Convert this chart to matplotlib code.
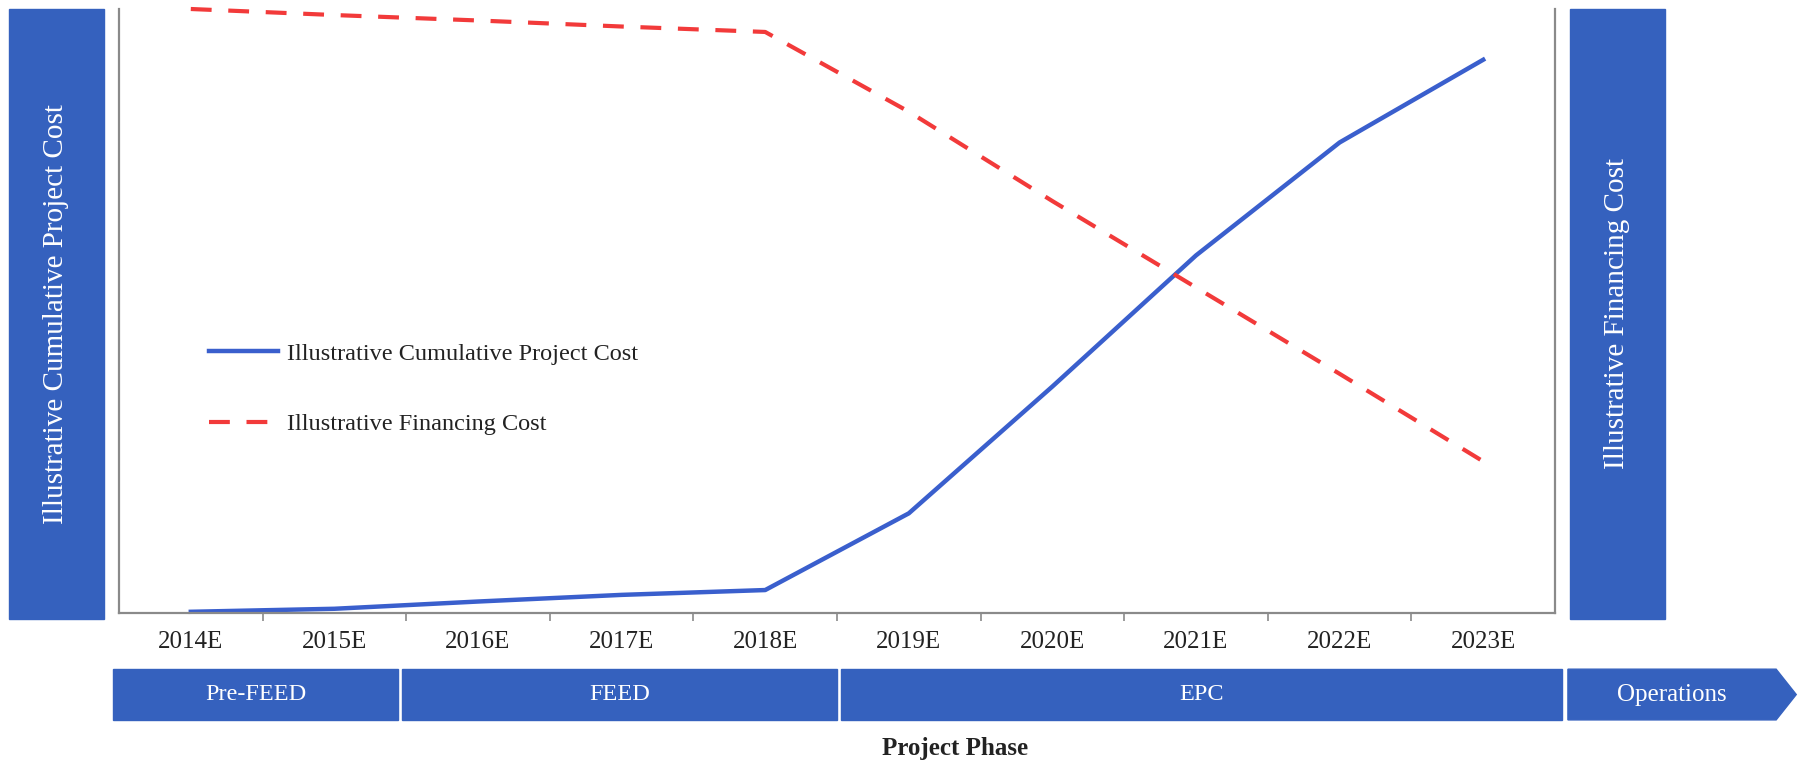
import numpy as np
import matplotlib
matplotlib.use('Agg')
import matplotlib.pyplot as plt
from matplotlib.patches import Rectangle, Polygon
import matplotlib.transforms as mtransforms

plt.rcParams['font.family'] = ['Liberation Serif', 'DejaVu Serif']

years = ['2014E', '2015E', '2016E', '2017E', '2018E',
         '2019E', '2020E', '2021E', '2022E', '2023E']
project_cost = [0.2, 0.7, 1.9, 3.0, 3.8, 16.5, 37.5, 59.2, 77.9, 91.6]
financing_cost = [100.0, 99.0, 98.1, 97.1, 96.2, 83.0, 68.2, 53.9, 39.6, 25.1]

phases = ['Pre-FEED', 'FEED', 'EPC', 'Operations']
phase_start = [-0.54, 1.47, 4.53, 9.59]
phase_end = [1.44, 4.50, 9.55, 11.04]

box_blue = '#3561BE'
line_blue = '#3A5FCD'
line_red = '#F23A3A'
spine_grey = '#8a8a8a'

fig = plt.figure(figsize=(18.04, 7.64), dpi=100)
ax = fig.add_axes([119 / 1804, 1 - 613 / 764, 1436 / 1804, 604 / 764])

x = np.arange(len(years))
ax.plot(x, project_cost, color=line_blue, lw=3.2,
        label='Illustrative Cumulative Project Cost', clip_on=False)
ax.plot(x, financing_cost, color=line_red, lw=3, dashes=(5, 4),
        label='Illustrative Financing Cost', clip_on=False)

ax.set_xlim(-0.5, len(years) - 0.5)
ax.set_ylim(0, 100)

# tick marks between categories, labels centred on categories
ax.set_xticks(x[:-1] + 0.5)
ax.set_xticklabels([])
ax.set_xticks(x, minor=True)
ax.set_xticklabels(years, minor=True, fontsize=18, color='#222222')
ax.tick_params(axis='x', which='major', length=6, width=1.2, color=spine_grey)
ax.tick_params(axis='x', which='minor', length=0, pad=13)
ax.set_yticks([])

ax.spines['top'].set_visible(False)
for side in ['left', 'right', 'bottom']:
    ax.spines[side].set_color(spine_grey)
    ax.spines[side].set_linewidth(1.6)

leg = ax.legend(loc='center left', bbox_to_anchor=(0.063, 0.371), frameon=False,
                fontsize=17.5, handlelength=2.8, handletextpad=0.4,
                labelspacing=2.0, borderpad=0, borderaxespad=0)
for t in leg.get_texts():
    t.set_color('#222222')

# side boxes
fig.patches.append(Rectangle((9 / 1804, 1 - 619 / 764), 95 / 1804, 610 / 764,
                             transform=fig.transFigure, color=box_blue, zorder=0))
fig.patches.append(Rectangle((1570 / 1804, 1 - 619 / 764), 95 / 1804, 610 / 764,
                             transform=fig.transFigure, color=box_blue, zorder=0))
fig.text(56 / 1804, 1 - 314 / 764, 'Illustrative Cumulative Project Cost',
         rotation=90, ha='center', va='center', color='white', fontsize=21)
fig.text(1617 / 1804, 1 - 314 / 764, 'Illustrative Financing Cost',
         rotation=90, ha='center', va='center', color='white', fontsize=21)

# phase bars below the axis
trans = mtransforms.blended_transform_factory(ax.transData, ax.transAxes)
y0, y1 = -0.177, -0.093
for name, s, e in zip(phases, phase_start, phase_end):
    if name == 'Operations':
        tip = e + 0.14
        poly = Polygon([(s, y0), (e, y0), (tip, (y0 + y1) / 2), (e, y1), (s, y1)],
                       closed=True, transform=trans, color=box_blue, clip_on=False)
        ax.add_patch(poly)
    else:
        ax.add_patch(Rectangle((s, y0), e - s, y1 - y0, transform=trans,
                               color=box_blue, clip_on=False))
    ax.text((s + e) / 2, (y0 + y1) / 2, name, transform=trans, ha='center',
            va='center', color='white', fontsize=18 if name == 'Operations' else 17.5)

fig.text(955 / 1804, 1 - 749 / 764, 'Project Phase', ha='center', va='center',
         fontsize=18, fontweight='bold', color='#222222')

fig.savefig('out.png', dpi=100)
